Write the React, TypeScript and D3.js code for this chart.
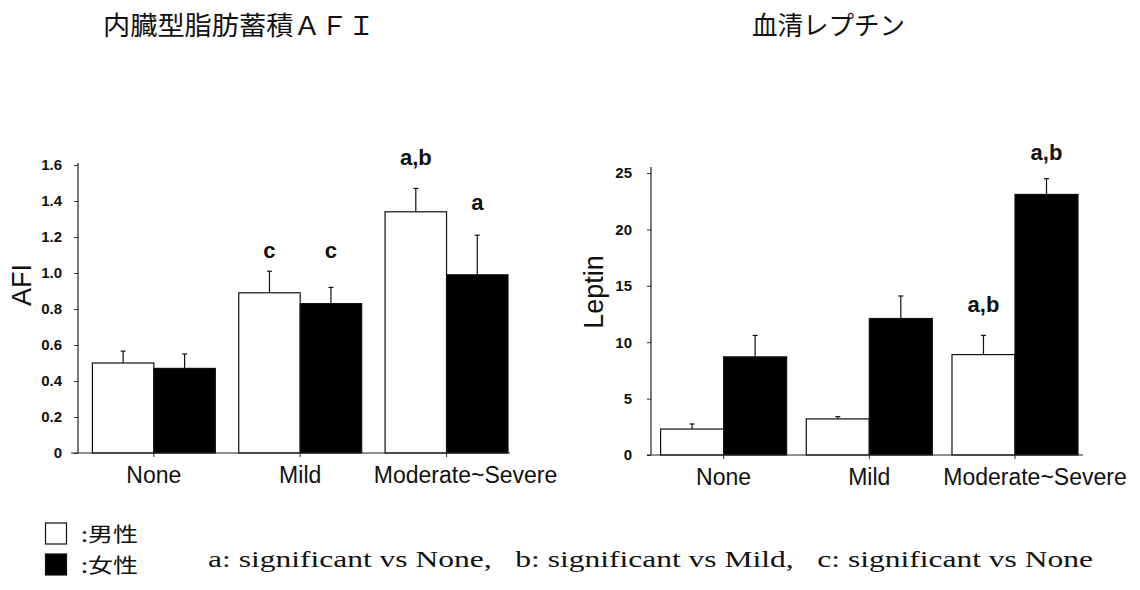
import React, { useEffect, useRef } from 'react';
import * as d3 from 'd3';

// categories shared by both panels
const categories = ['None', 'Mild', 'Moderate~Severe'];

// AFI panel
const afiTicks = [0, 0.2, 0.4, 0.6, 0.8, 1.0, 1.2, 1.4, 1.6];
const afiMale = [0.5, 0.89, 1.34];
const afiMaleErr = [0.066, 0.12, 0.13];
const afiFemale = [0.47, 0.83, 0.99];
const afiFemaleErr = [0.08, 0.09, 0.22];
const afiMaleSig = ['', 'c', 'a,b'];
const afiFemaleSig = ['', 'c', 'a'];
const afiMaleSigAt = [0, 1.083, 1.6];
const afiFemaleSigAt = [0, 1.083, 1.35];

// Leptin panel
const leptinTicks = [0, 5, 10, 15, 20, 25];
const leptinMale = [2.3, 3.2, 8.9];
const leptinMaleErr = [0.45, 0.2, 1.7];
const leptinFemale = [8.7, 12.1, 23.1];
const leptinFemaleErr = [1.9, 2.0, 1.4];
const leptinMaleSig = ['', '', 'a,b'];
const leptinFemaleSig = ['', '', 'a,b'];
const leptinMaleSigAt = [0, 0, 12.68];
const leptinFemaleSigAt = [0, 0, 26.15];

const titles = ['内臓型脂肪蓄積ＡＦＩ', '血清レプチン'];
const legendLabels = [':男性', ':女性'];
const footnote = 'a: significant vs None,\u00a0\u00a0 b: significant vs Mild,\u00a0\u00a0 c: significant vs None';

const SANS = '"Liberation Sans", Arial, Helvetica, sans-serif';
const CJK = '"Noto Sans CJK JP", sans-serif';

function drawPanel(svg, p) {
  const g = svg.append('g');
  const y = d3.scaleLinear().domain([0, p.yMax]).range([p.y0, p.y1]);
  const x = d3.scaleBand().domain(categories).range(p.xRange).paddingInner(p.pad).paddingOuter(0);
  const bw = x.bandwidth() / 2;

  // y axis
  const yAxis = d3.axisLeft(y).tickValues(p.ticks).tickSizeInner(4).tickSizeOuter(0)
    .tickPadding(p.tickPad).tickFormat(p.fmt);
  const $y = g.append('g').attr('transform', `translate(${p.axisX},0)`).call(yAxis);
  $y.select('.domain').remove();
  $y.selectAll('.tick line').attr('stroke', '#333');
  $y.selectAll('.tick text')
    .attr('font-family', SANS).attr('font-size', 15).attr('font-weight', 'bold').attr('fill', '#111');
  g.append('line')
    .attr('x1', p.axisX).attr('x2', p.axisX).attr('y1', p.axisTop).attr('y2', p.y0)
    .attr('stroke', '#222').attr('stroke-width', 1.2);

  // bars
  const series = [
    { vals: p.male, err: p.maleErr, sig: p.maleSig, sigAt: p.maleSigAt, off: 0, fill: '#fff' },
    { vals: p.female, err: p.femaleErr, sig: p.femaleSig, sigAt: p.femaleSigAt, off: bw, fill: '#000' }
  ];
  series.forEach(s => {
    categories.forEach((c, i) => {
      const bx = x(c) + s.off;
      const cx = bx + bw / 2;
      const top = y(s.vals[i] + s.err[i]);
      g.append('line').attr('x1', cx).attr('x2', cx).attr('y1', y(s.vals[i])).attr('y2', top)
        .attr('stroke', '#111').attr('stroke-width', 1.2);
      g.append('line').attr('x1', cx - 2.5).attr('x2', cx + 2.5).attr('y1', top).attr('y2', top)
        .attr('stroke', '#111').attr('stroke-width', 1.2);
      g.append('rect')
        .attr('x', bx).attr('y', y(s.vals[i])).attr('width', bw).attr('height', y(0) - y(s.vals[i]))
        .attr('fill', s.fill).attr('stroke', '#111').attr('stroke-width', 1.2);
      if (s.sig[i]) {
        g.append('text').text(s.sig[i])
          .attr('x', cx).attr('y', y(s.sigAt[i]))
          .attr('text-anchor', 'middle')
          .attr('font-family', SANS).attr('font-size', 22).attr('font-weight', 'bold').attr('fill', '#111');
      }
    });
  });

  // x axis
  g.append('line')
    .attr('x1', p.xLine[0]).attr('x2', p.xLine[1]).attr('y1', p.y0).attr('y2', p.y0)
    .attr('stroke', '#222').attr('stroke-width', 1.2);
  categories.forEach((c, i) => {
    const cx = x(c) + bw;
    g.append('line').attr('x1', cx).attr('x2', cx).attr('y1', p.y0).attr('y2', p.y0 + 4)
      .attr('stroke', '#333');
    g.append('text').text(c)
      .attr('x', cx + (i === categories.length - 1 ? p.lastShift : 0))
      .attr('y', p.labelY)
      .attr('text-anchor', 'middle')
      .attr('font-family', SANS).attr('font-size', 23).attr('fill', '#111');
  });

  // y title
  g.append('text').text(p.yLabel)
    .attr('transform', `translate(${p.yLabelX},${p.yLabelY}) rotate(-90)`)
    .attr('text-anchor', 'middle')
    .attr('font-family', SANS).attr('font-size', 27).attr('fill', '#111');
}

const App = () => {
  const ref = useRef(null);

  useEffect(() => {
    const svg = d3.select(ref.current);
    svg.selectAll('*').remove();

    drawPanel(svg, {
      yMax: 1.6, y0: 453, y1: 165, axisTop: 163, axisX: 78, tickPad: 12,
      ticks: afiTicks, fmt: d => (d === 0 ? '0' : d3.format('.1f')(d)),
      xRange: [92.4, 508], pad: 0.16, xLine: [71, 510], labelY: 483, lastShift: 19,
      male: afiMale, maleErr: afiMaleErr, female: afiFemale, femaleErr: afiFemaleErr,
      maleSig: afiMaleSig, femaleSig: afiFemaleSig, maleSigAt: afiMaleSigAt, femaleSigAt: afiFemaleSigAt,
      yLabel: 'AFI', yLabelX: 31, yLabelY: 285
    });

    drawPanel(svg, {
      yMax: 25, y0: 455, y1: 173, axisTop: 167, axisX: 651, tickPad: 15,
      ticks: leptinTicks, fmt: d3.format('d'),
      xRange: [660.6, 1078], pad: 0.135, xLine: [647, 1083], labelY: 485, lastShift: 20,
      male: leptinMale, maleErr: leptinMaleErr, female: leptinFemale, femaleErr: leptinFemaleErr,
      maleSig: leptinMaleSig, femaleSig: leptinFemaleSig, maleSigAt: leptinMaleSigAt, femaleSigAt: leptinFemaleSigAt,
      yLabel: 'Leptin', yLabelX: 603, yLabelY: 292
    });

    // titles
    const titleX = [103, 752];
    const titleW = [272, 153];
    titles.forEach((t, i) => {
      svg.append('text').text(t)
        .attr('x', titleX[i]).attr('y', 35)
        .attr('textLength', titleW[i]).attr('lengthAdjust', 'spacingAndGlyphs')
        .attr('font-family', CJK).attr('font-size', 26).attr('fill', '#111');
    });

    // legend
    const legendY = [523, 554];
    legendLabels.forEach((l, i) => {
      svg.append('rect')
        .attr('x', 45.5).attr('y', legendY[i]).attr('width', 21).attr('height', 21)
        .attr('fill', i === 0 ? '#fff' : '#000').attr('stroke', '#111').attr('stroke-width', 1.2);
      svg.append('text').text(l)
        .attr('x', 81).attr('y', legendY[i] + 19)
        .attr('textLength', 57).attr('lengthAdjust', 'spacingAndGlyphs')
        .attr('font-family', CJK).attr('font-size', 20).attr('fill', '#111');
    });

    svg.append('text').text(footnote)
      .attr('x', 208).attr('y', 567)
      .attr('textLength', 885).attr('lengthAdjust', 'spacingAndGlyphs')
      .attr('font-family', '"Liberation Serif", "DejaVu Serif", serif').attr('font-size', 24).attr('fill', '#111');
  }, []);

  return (
    <svg ref={ref} width={1140} height={590}
      style={{ position: 'absolute', left: 0, top: 0, background: '#fff' }} />
  );
};

export default App;
